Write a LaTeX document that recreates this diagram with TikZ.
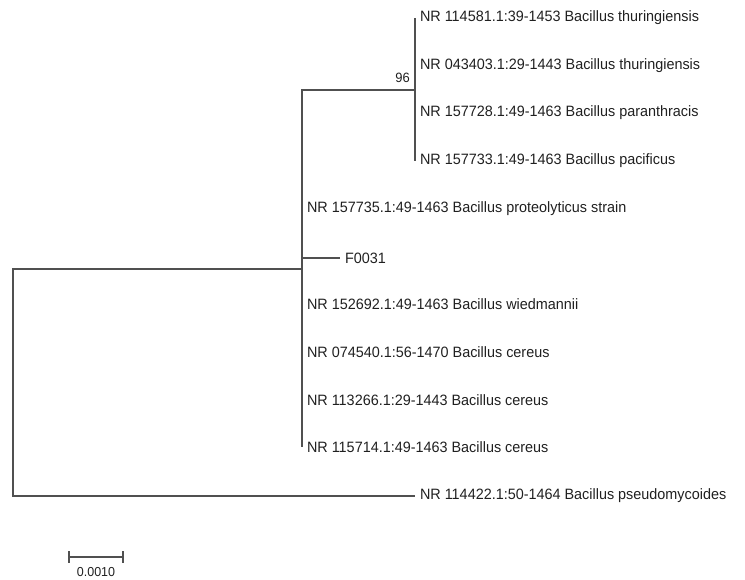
\documentclass[tikz,border=0pt]{standalone}
\usepackage{fontspec}
\setmainfont{Liberation Sans}
\newfontfamily\treefont[FakeStretch=0.96]{Liberation Sans}
\usetikzlibrary{positioning}
\definecolor{BranchGray}{HTML}{505050}
\definecolor{LabelInk}  {HTML}{202020}
\tikzset{
  branch/.style={line width=1.4pt,color=BranchGray},
  leaf/.style={anchor=west,inner sep=5pt,outer sep=0pt,text=LabelInk,
               font=\fontsize{15}{17}\selectfont\treefont},
  boot/.style={anchor=east,inner sep=1pt,text=LabelInk,
               font=\fontsize{13.5}{15}\selectfont\treefont},
  scaletxt/.style={inner sep=1pt,text=LabelInk,
               font=\fontsize{13}{15}\selectfont\treefont},
}

\begin{document}
\begin{tikzpicture}[x=1pt,y=-1pt]
  \useasboundingbox (0,0) rectangle (745,580);

  % internal nodes
  \coordinate (ROOT) at (13,383);
  \coordinate (CORE) at (302,269);
  \coordinate (THUR) at (415,90);

  % leaves of the upper clade
  \node[leaf] (T1) at (415,18)  {NR 114581.1:39-1453 Bacillus thuringiensis};
  \node[leaf] (T2) at (415,66)  {NR 043403.1:29-1443 Bacillus thuringiensis};
  \node[leaf] (PAR) at (415,113) {NR 157728.1:49-1463 Bacillus paranthracis};
  \node[leaf] (PAC) at (415,161) {NR 157733.1:49-1463 Bacillus pacificus};

  % leaves on the core node
  \node[leaf] (PRO) at (302,209) {NR 157735.1:49-1463 Bacillus proteolyticus strain};
  \node[leaf] (F31) at (340,258) {F0031};
  \node[leaf] (WIE) at (302,304) {NR 152692.1:49-1463 Bacillus wiedmannii};
  \node[leaf] (C1)  at (302,352) {NR 074540.1:56-1470 Bacillus cereus};
  \node[leaf] (C2)  at (302,400) {NR 113266.1:29-1443 Bacillus cereus};
  \node[leaf] (C3)  at (302,447) {NR 115714.1:49-1463 Bacillus cereus};

  % outgroup
  \node[leaf] (PSE) at (415,496) {NR 114422.1:50-1464 Bacillus pseudomycoides};

  \draw[branch] (ROOT) |- (CORE);
  \draw[branch] (ROOT) |- (PSE.west);

  \draw[branch] (CORE) |- (THUR);
  \draw[branch] (CORE) |- (PRO.west);
  \draw[branch] (CORE) |- (F31.west);
  \draw[branch] (CORE) |- (WIE.west);
  \draw[branch] (CORE) |- (C1.west);
  \draw[branch] (CORE) |- (C2.west);
  \draw[branch] (CORE) |- (C3.west);

  \draw[branch] (THUR) |- (T1.west);
  \draw[branch] (THUR) |- (T2.west);
  \draw[branch] (THUR) |- (PAR.west);
  \draw[branch] (THUR) |- (PAC.west);

  \node[boot] (B96) at (411,78) {96};

  % scale bar
  \coordinate (SB1) at (69,557);
  \coordinate (SB2) at (123,557);
  \draw[branch,line width=1.2pt] (SB1) -- (SB2);
  \draw[branch,line width=1.2pt] ([yshift=6pt]SB1) -- ([yshift=-6pt]SB1);
  \draw[branch,line width=1.2pt] ([yshift=6pt]SB2) -- ([yshift=-6pt]SB2);
  \node[scaletxt] (SBL) at (96,572) {0.0010};

\end{tikzpicture}
\end{document}
